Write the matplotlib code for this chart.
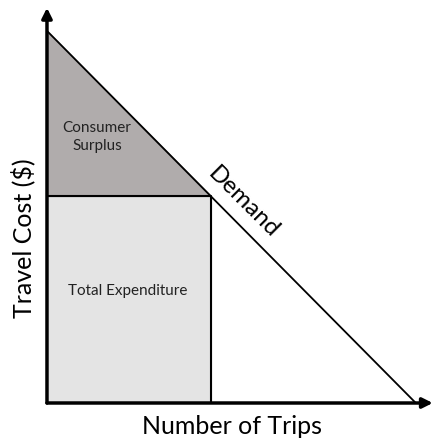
import numpy as np
import matplotlib.pyplot as plt
import matplotlib as mpl

mpl.rcParams['font.family'] = ['Lato', 'DejaVu Sans']

# linear demand curve P = P_MAX - Q
P_MAX = 100
Q_MAX = 100
Q_STAR = 44.4
P_STAR = P_MAX - Q_STAR

demand_q = [0, Q_MAX]
demand_p = [P_MAX, 0]

fig = plt.figure(figsize=(4.33, 4.43), dpi=100)
ax = fig.add_axes([0.1085, 0.0903, 0.891, 0.892])
ax.set_xlim(0, 104.6)
ax.set_ylim(0, 106.2)

# total expenditure rectangle
ax.fill([0, Q_STAR, Q_STAR, 0], [0, 0, P_STAR, P_STAR], color='#e4e4e4', zorder=1)
ax.plot([0, Q_STAR, Q_STAR], [P_STAR, P_STAR, 0], color='black', lw=1.5, zorder=2)
# consumer surplus triangle
ax.fill([0, 0, Q_STAR], [P_MAX, P_STAR, P_STAR], color='#b0acac', zorder=1)

ax.plot(demand_q, demand_p, color='black', lw=1.3, zorder=3)

# axes with arrows
for s in ax.spines.values():
    s.set_visible(False)
ax.annotate('', xy=(0, 1.0), xytext=(0, 0), xycoords='axes fraction',
            arrowprops=dict(arrowstyle='-|>,head_width=0.3,head_length=0.6', lw=2.5, color='black',
                            shrinkA=0, shrinkB=0), zorder=5)
ax.annotate('', xy=(1.0, 0), xytext=(0, 0), xycoords='axes fraction',
            arrowprops=dict(arrowstyle='-|>,head_width=0.3,head_length=0.6', lw=2.5, color='black',
                            shrinkA=0, shrinkB=0), zorder=5)
ax.set_xticks([]); ax.set_yticks([])

ax.text(13.6, 71.5, 'Consumer\nSurplus', ha='center', va='center', fontsize=11, linespacing=1.35,
        color='#222222')
ax.text(22.0, 30.2, 'Total Expenditure', ha='center', va='center', fontsize=11, color='#222222')
ax.text(53.1, 53.8, 'Demand', ha='center', va='center', fontsize=17.5, rotation=-45,
        rotation_mode='anchor')

fig.text(232/433, 1 - 427/443, 'Number of Trips', ha='center', va='center', fontsize=18)
fig.text(23/433, 1 - 238/443, 'Travel Cost ($)', ha='center', va='center', fontsize=18, rotation=90)

fig.savefig('out.png', dpi=100)
